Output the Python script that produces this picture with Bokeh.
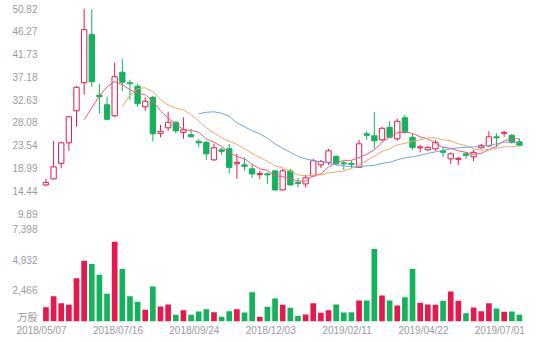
import math
import pandas as pd
from bokeh.plotting import figure
from bokeh.layouts import column
from bokeh.models import Range1d, FixedTicker, CustomJSTickFormatter, ColumnDataSource
from bokeh.embed import file_html
from bokeh.resources import INLINE

# ---------------- data ----------------
first_week = "2018-05-07"
x_tick_labels = ["2018/05/07", "2018/07/16", "2018/09/24", "2018/12/03",
                 "2019/02/11", "2019/04/22", "2019/07/01"]
price_ticks = [9.89, 14.44, 18.99, 23.54, 28.08, 32.63, 37.18, 41.73, 46.27, 50.82]
volume_ticks = [0, 2466, 4932, 7398]
volume_unit = "万股"

opens = [15.6, 16.8, 19.9, 24.0, 30.4, 36.0, 45.6, 33.5, 31.6, 29.4,
         38.1, 36.0, 35.3, 31.2, 33.1, 25.9, 27.0, 28.1, 26.1, 25.6,
         24.3, 24.1, 20.6, 22.6, 22.8, 19.8, 19.6, 18.8, 17.7, 17.8,
         18.4, 14.6, 18.4, 16.1, 15.8, 17.4, 19.6, 20.1, 21.3, 20.0,
         19.9, 19.1, 25.8, 25.4, 24.6, 27.1, 24.8, 29.0, 25.1, 23.0,
         22.6, 22.8, 22.4, 20.8, 20.7, 21.8, 21.2, 23.0, 23.4, 25.2,
         25.9, 25.5, 24.2]
highs = [16.8, 24.4, 24.2, 29.4, 35.3, 50.82, 50.7, 35.8, 33.2, 40.0,
         40.8, 36.6, 35.8, 33.1, 33.4, 27.6, 30.2, 28.3, 29.1, 26.8,
         24.8, 24.4, 23.8, 23.1, 23.8, 21.8, 21.1, 19.8, 18.4, 18.1,
         18.6, 18.8, 18.8, 17.0, 17.6, 20.8, 20.6, 22.8, 21.5, 20.4,
         20.5, 24.6, 26.3, 30.1, 27.2, 28.3, 28.8, 29.6, 25.9, 23.6,
         23.3, 24.6, 23.1, 22.1, 21.2, 22.1, 22.6, 23.8, 26.3, 25.9,
         26.4, 25.8, 24.8]
lows = [15.4, 16.7, 18.9, 22.4, 27.2, 33.6, 35.2, 29.8, 28.6, 29.1,
        34.3, 32.6, 31.2, 30.4, 24.3, 25.1, 26.4, 25.9, 24.8, 25.1,
        23.1, 20.6, 20.4, 21.6, 17.9, 16.8, 18.4, 17.0, 16.8, 15.8,
        14.4, 14.4, 15.4, 15.1, 15.1, 17.2, 19.0, 19.6, 19.5, 18.6,
        19.0, 19.0, 24.6, 22.8, 24.4, 25.0, 24.4, 25.8, 22.6, 22.1,
        22.4, 22.4, 21.1, 19.8, 19.6, 20.8, 20.3, 22.8, 23.2, 23.1,
        25.2, 23.8, 23.3]
closes = [16.1, 19.2, 24.0, 29.2, 35.1, 46.6, 36.2, 33.2, 28.7, 37.2,
          36.1, 35.8, 31.8, 32.3, 25.8, 26.3, 28.1, 26.4, 26.6, 25.2,
          24.0, 21.8, 23.0, 22.3, 19.1, 20.1, 19.3, 17.8, 17.9, 17.6,
          14.6, 18.4, 15.6, 15.9, 17.0, 20.4, 20.3, 22.4, 19.8, 19.8,
          19.7, 23.8, 25.5, 24.4, 26.9, 25.1, 28.3, 26.1, 23.1, 23.2,
          23.1, 24.1, 22.1, 21.8, 20.9, 21.5, 22.1, 23.5, 25.2, 25.0,
          26.1, 24.1, 23.5]
volumes = [1147, 2029, 1468, 1339, 3473, 4892, 4628, 3769, 2222, 6416,
           4226, 2029, 1580, 938, 2807, 1203, 1363, 537, 906, 537,
           802, 987, 746, 377, 826, 987, 722, 2350, 377, 1179,
           1845, 1339, 1099, 457, 561, 1468, 698, 906, 1363, 722,
           746, 1684, 1684, 5830, 2085, 1684, 1283, 1949, 4226, 1500,
           1363, 1339, 1660, 2406, 1660, 666, 1123, 826, 1468, 1043,
           778, 802, 537]
N = math.nan
ma5 = [N, N, N, N, N, 28.6, 31.0, 33.3, 35.2, 36.2,
       35.6, 34.6, 33.9, 33.6, 32.3, 30.4, 28.9, 27.8, 26.6, 26.5,
       26.1, 24.8, 24.1, 23.3, 22.0, 21.3, 20.8, 19.7, 18.8, 18.5,
       17.4, 17.3, 16.8, 16.4, 16.3, 17.5, 17.8, 19.2, 20.0, 20.5,
       20.5, 21.1, 21.7, 22.6, 24.1, 25.1, 26.0, 26.2, 25.9, 25.2,
       24.8, 23.9, 23.1, 22.9, 22.4, 22.1, 21.7, 21.9, 22.6, 23.4,
       24.4, 24.8, 24.8]
ma10 = [N, N, N, N, N, N, N, N, N, N,
        31.2, 33.5, 34.8, 35.0, 34.2, 32.6, 31.6, 30.9, 30.6, 29.6,
        28.4, 27.0, 26.0, 25.0, 24.3, 23.7, 22.8, 21.9, 21.1, 20.3,
        19.4, 19.0, 18.3, 17.6, 17.4, 17.5, 17.6, 18.0, 18.2, 18.4,
        18.9, 19.5, 20.5, 21.3, 22.3, 22.8, 23.6, 23.9, 24.3, 24.6,
        25.0, 25.0, 24.6, 24.4, 23.8, 23.4, 22.8, 22.5, 22.7, 22.9,
        23.2, 23.2, 23.4]
ma20 = [N] * 20 + [
        29.8, 30.1, 30.2, 29.9, 29.3, 28.0, 27.2, 26.4, 25.8, 24.9,
        23.8, 22.9, 22.1, 21.3, 20.8, 20.5, 20.2, 20.0, 19.6, 19.4,
        19.2, 19.2, 19.4, 19.5, 19.9, 20.1, 20.6, 21.0, 21.2, 21.5,
        21.9, 22.2, 22.5, 22.8, 23.0, 23.1, 23.2, 23.2, 23.5, 23.8,
        24.1, 24.1, 24.0]

# ---------------- styling ----------------
UP = "#e5194d"
DOWN = "#14b25b"
C_MA5 = "#ec5a7e"
C_MA10 = "#f2a56c"
C_MA20 = "#6fa8d9"
LABEL = "#9a9a9a"
FONT = "Liberation Sans, Noto Sans CJK SC"
FS = "10px"

weeks = pd.date_range(first_week, periods=len(closes), freq="7D")
xs = weeks + pd.Timedelta(days=4)
is_up = [c >= o for o, c in zip(opens, closes)]
colors = [UP if u else DOWN for u in is_up]
fills = ["#ffffff" if u else DOWN for u in is_up]
body_top = [max(o, c) for o, c in zip(opens, closes)]
body_bot = [min(o, c) for o, c in zip(opens, closes)]
body_bot = [b if t - b > 0.15 else t - 0.15 for t, b in zip(body_top, body_bot)]

src = ColumnDataSource(dict(x=xs, high=highs, low=lows, top=body_top, bottom=body_bot,
                            color=colors, fill=fills, vol=volumes,
                            ma5=ma5, ma10=ma10, ma20=ma20))

DAY = 86400000
x_start = weeks[0] - pd.Timedelta(days=1)
x_end = x_start + pd.Timedelta(days=452.8)
x_range = Range1d(start=x_start, end=x_end)

# price panel
p1 = figure(width=554, height=221, x_axis_type="datetime", x_range=x_range,
            y_range=Range1d(price_ticks[0], price_ticks[-1]),
            x_axis_location=None, output_backend="svg", toolbar_location=None,
            min_border_left=40, min_border_right=20, min_border_top=8, min_border_bottom=8)
p1.segment(x0="x", y0="high", x1="x", y1="low", color="color", line_width=1, source=src)
p1.vbar(x="x", top="top", bottom="bottom", width=4.9 * DAY, fill_color="fill",
        line_color="color", line_width=1, source=src)
p1.line(x="x", y="ma5", color=C_MA5, line_width=1, source=src)
p1.line(x="x", y="ma10", color=C_MA10, line_width=1, source=src)
p1.line(x="x", y="ma20", color=C_MA20, line_width=1, source=src)
p1.yaxis.ticker = FixedTicker(ticks=price_ticks)
p1.yaxis.formatter = CustomJSTickFormatter(code="return tick.toFixed(2);")

# volume panel
p2 = figure(width=554, height=121, x_axis_type="datetime", x_range=x_range,
            y_range=Range1d(volume_ticks[0], volume_ticks[-1]),
            output_backend="svg", toolbar_location=None,
            min_border_left=40, min_border_right=20, min_border_top=8, min_border_bottom=21)
p2.vbar(x="x", top="vol", bottom=0, width=5.2 * DAY, fill_color="color",
        line_color=None, source=src)
# the unit label sits at the baseline, nudged up a little so it clears the dates
unit_pos = volume_ticks[1] * 0.14
p2.yaxis.ticker = FixedTicker(ticks=[unit_pos] + volume_ticks[1:])
p2.yaxis.formatter = CustomJSTickFormatter(
    args=dict(unit=volume_unit, first=volume_ticks[1]),
    code="return tick < first / 2 ? unit : Math.round(tick).toLocaleString('en-US');")
tick_ms = [pd.Timestamp(s.replace("/", "-")).value // 10**6 for s in x_tick_labels]
p2.xaxis.ticker = FixedTicker(ticks=tick_ms)
p2.xaxis.formatter = CustomJSTickFormatter(code="""
const d = new Date(tick);
const m = String(d.getUTCMonth() + 1).padStart(2, '0');
const dd = String(d.getUTCDate()).padStart(2, '0');
return d.getUTCFullYear() + '/' + m + '/' + dd;
""")

for p in (p1, p2):
    p.grid.visible = False
    p.outline_line_color = None
    p.background_fill_color = "white"
    p.border_fill_color = "white"
    for ax in p.axis:
        ax.axis_line_color = None
        ax.major_tick_line_color = None
        ax.minor_tick_line_color = None
        ax.major_tick_out = 0
        ax.major_tick_in = 0
        ax.major_label_text_color = LABEL
        ax.major_label_text_font = FONT
        ax.major_label_text_font_size = FS
        ax.major_label_standoff = 3

layout = column(p1, p2, spacing=0)
open("out.html", "w").write(file_html(layout, INLINE))
